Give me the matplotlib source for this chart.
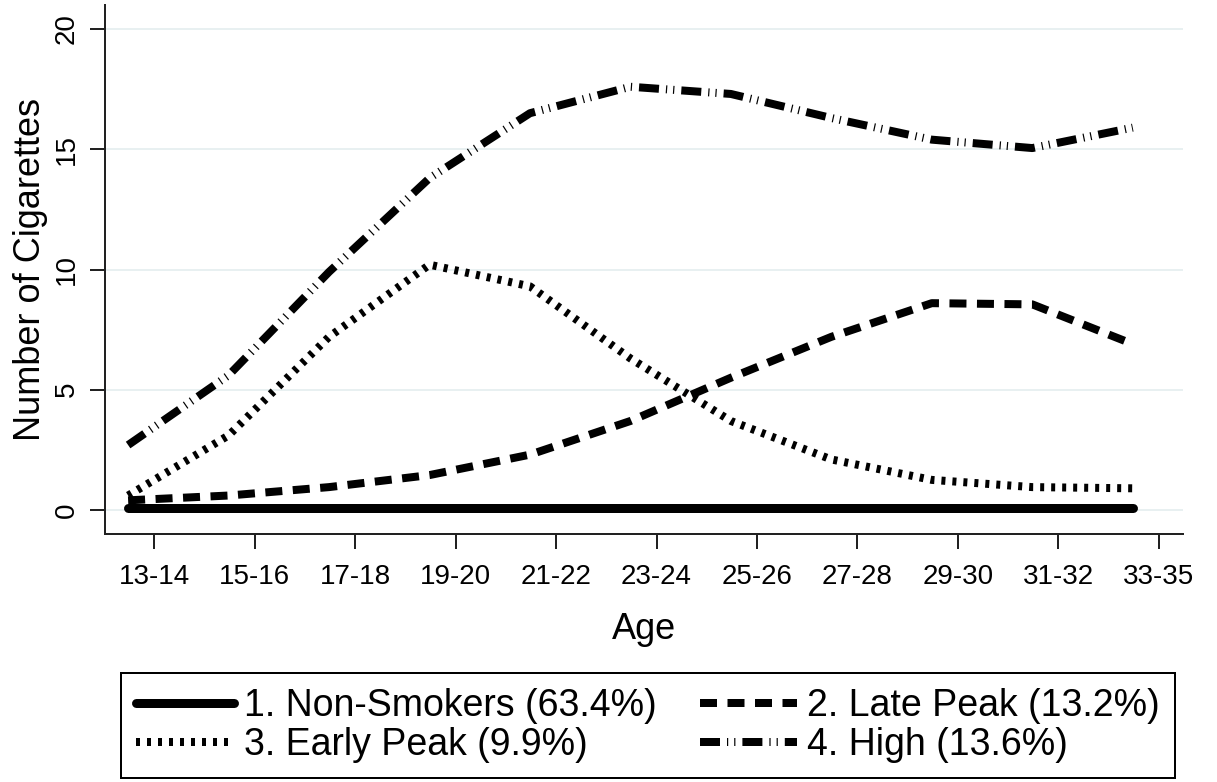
import matplotlib
matplotlib.use("Agg")
import matplotlib.pyplot as plt
import numpy as np

plt.rcParams['font.family'] = ['Liberation Sans', 'DejaVu Sans']
plt.rcParams['lines.scale_dashes'] = False

age_groups = ["13-14", "15-16", "17-18", "19-20", "21-22", "23-24",
              "25-26", "27-28", "29-30", "31-32", "33-35"]
non_smokers = [0.1, 0.1, 0.1, 0.1, 0.1, 0.1, 0.1, 0.1, 0.1, 0.1, 0.1]
late_peak   = [0.4, 0.6, 0.95, 1.45, 2.3, 3.7, 5.5, 7.2, 8.6, 8.55, 6.9]
early_peak  = [0.6, 3.1, 7.2, 10.2, 9.3, 6.3, 3.7, 2.1, 1.25, 0.95, 0.9]
high        = [2.7, 5.6, 9.9, 13.8, 16.5, 17.6, 17.3, 16.3, 15.4, 15.05, 15.9]
labels = ["1. Non-Smokers (63.4%)", "2. Late Peak (13.2%)",
          "3. Early Peak (9.9%)", "4. High (13.6%)"]
yticks = [0, 5, 10, 15, 20]

W, H = 1217, 782
fig = plt.figure(figsize=(W / 100, H / 100), dpi=100)
ax = fig.add_axes([105 / W, 1 - 534 / H, (1183 - 105) / W, (534 - 5) / H])

tick_pos = np.arange(len(age_groups))
x = tick_pos - 0.26   # points are drawn slightly left of the tick marks

px = 0.72  # points per pixel
lw = 8 * px

for yv in yticks:
    ax.axhline(yv, color="#e8f0f1", lw=2 * px, zorder=0)

l_high, = ax.plot(x, high, color="black", lw=lw, zorder=3,
                  linestyle=(0, (20 * px, 7 * px, 1.2 * px, 6 * px, 1.2 * px, 7 * px)))
l_early, = ax.plot(x, early_peak, color="black", lw=lw, zorder=3,
                   linestyle=(0, (4 * px, 7 * px)))
l_late, = ax.plot(x, late_peak, color="black", lw=lw, zorder=3,
                  linestyle=(0, (17 * px, 10.5 * px)))
l_non, = ax.plot(x, non_smokers, color="black", lw=9 * px, solid_capstyle="round",
                 zorder=2)

ax.set_xlim(-0.49, 10.24)
ax.set_ylim(-1, 21)
ax.set_xticks(tick_pos)
ax.set_xticklabels(age_groups, fontsize=20)
ax.set_yticks(yticks)
ax.set_yticklabels([str(v) for v in yticks], fontsize=20, rotation=90, va="center")

for s in ["top", "right"]:
    ax.spines[s].set_visible(False)
for s in ["left", "bottom"]:
    ax.spines[s].set_linewidth(2 * px)
    ax.spines[s].set_color("#222222")
ax.tick_params(axis="x", length=15 * px, width=2 * px, pad=15 * px, color="#222222")
ax.tick_params(axis="y", length=15 * px, width=2 * px, pad=10 * px, color="#222222")

ax.set_xlabel("Age", fontsize=26, labelpad=16)
ax.set_ylabel("Number of Cigarettes", fontsize=26, labelpad=4)

handles = [l_non, l_early, l_late, l_high]
leg_labels = [labels[0], labels[2], labels[1], labels[3]]
leg = fig.legend(handles, leg_labels, ncol=2, loc="lower center",
                 bbox_to_anchor=(0.5325, 0.005), fontsize=27, frameon=True,
                 fancybox=False, edgecolor="black", framealpha=1,
                 handlelength=2.6, handletextpad=0.27, columnspacing=1.15,
                 labelspacing=0.08, borderpad=0.4, borderaxespad=0)
leg.get_frame().set_linewidth(2 * px)

fig.savefig("out.png", dpi=100)
